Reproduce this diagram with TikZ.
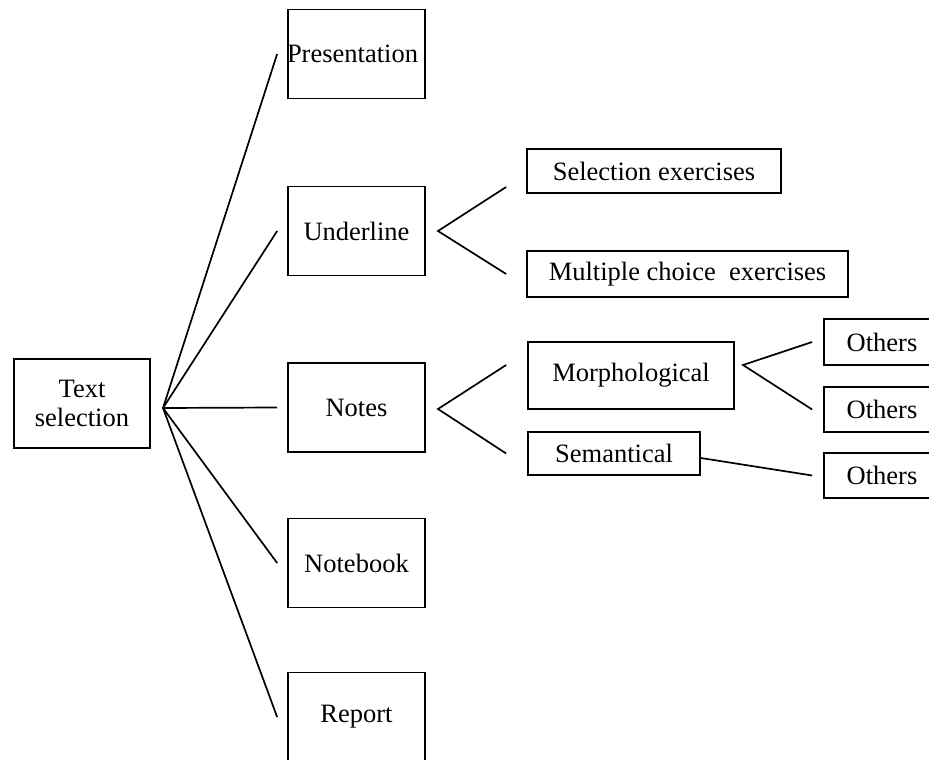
\documentclass[tikz,border=0pt]{standalone}
\usepackage{fontspec}
\setmainfont{Liberation Serif}
\usetikzlibrary{calc}
\tikzstyle{box} = [draw, line width=1.7, inner sep=0, align=center,
  font=\fontsize{26.5}{31}\selectfont]
\tikzstyle{branch} = [line width=1.7]

\begin{document}
\begin{tikzpicture}[x=1pt, y=-1pt]
  \useasboundingbox (0,0) rectangle (929,760);
  \clip (0,0) rectangle (929,760);

  % root
  \node[box, minimum width=136, minimum height=89] (textsel) at (82, 403.5) {\raisebox{-2pt}{Text}\\selection};
  \coordinate (hub) at (163, 408);

  % first level
  \foreach \name/\txt/\y in {pres/\hspace*{-8pt}Presentation/54, under/Underline/231,
    notes/Notes/407.5, notebook/Notebook/563, report/Report/717} {
    \node[box, minimum width=137, minimum height=89] (\name) at (356.5, \y) {\txt};
    \draw[branch] (hub) -- ([xshift=-10]\name.west);
  }

  % underline branch
  \node[box, minimum width=254, minimum height=44] (selex) at (654, 171) {\raisebox{-3pt}{Selection exercises}};
  \node[box, minimum width=321, minimum height=46] (multex) at (687.5, 274) {\raisebox{-2pt}{Multiple choice\ \ exercises}};
  \coordinate (uvert) at (438, 231);
  \draw[branch] ([xshift=-20, yshift=-16]selex.west) -- (uvert) -- ([xshift=-20]multex.west);

  % notes branch
  \node[box, minimum width=206, minimum height=67] (morph) at (631, 375.5) {\raisebox{4pt}{Morphological}};
  \node[box, minimum width=172, minimum height=43] (seman) at (614, 453.5) {\raisebox{-3pt}{Semantical}};
  \coordinate (nvert) at (438, 409);
  \draw[branch] ([xshift=-21, yshift=10.5]morph.west) -- (nvert) -- ([xshift=-21]seman.west);

  % others
  \node[box, minimum width=116, minimum height=46] (oth1) at (882, 342) {Others};
  \node[box, minimum width=116, minimum height=45] (oth2) at (882, 409.5) {Others};
  \node[box, minimum width=116, minimum height=45] (oth3) at (882, 475.5) {Others};
  \coordinate (mvert) at (743, 365);
  \draw[branch] ([xshift=-11]oth1.west) -- (mvert) -- ([xshift=-11]oth2.west);
  \draw[branch] ([yshift=-4.5]seman.east) -- ([xshift=-11]oth3.west);
\end{tikzpicture}
\end{document}
